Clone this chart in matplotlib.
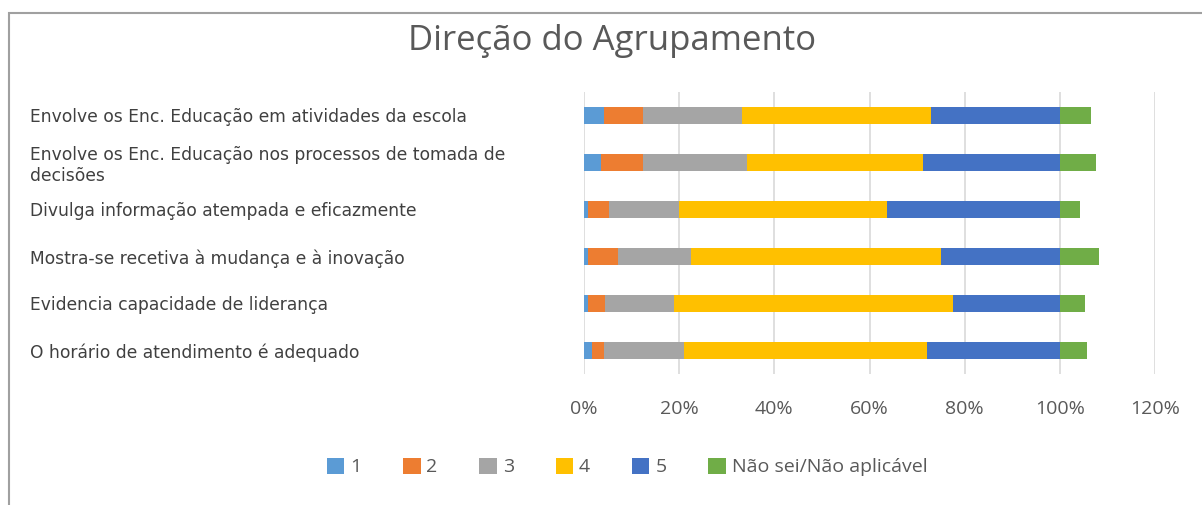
import matplotlib
matplotlib.use("Agg")
import matplotlib.pyplot as plt
from matplotlib.patches import Rectangle
import numpy as np

# Data (percent)
categories = ["Envolve os Enc. Educação em atividades da escola",
              "Envolve os Enc. Educação nos processos de tomada de\ndecisões",
              "Divulga informação atempada e eficazmente",
              "Mostra-se recetiva à mudança e à inovação",
              "Evidencia capacidade de liderança",
              "O horário de atendimento é adequado"]
series_names = ["1", "2", "3", "4", "5", "Não sei/Não aplicável"]
s1 = [4.3, 3.5, 0.8, 0.9, 0.9, 1.7]
s2 = [8.0, 8.8, 4.5, 6.3, 3.6, 2.6]
s3 = [21.0, 21.9, 14.6, 15.3, 14.5, 16.8]
s4 = [39.7, 37.1, 43.7, 52.5, 58.6, 51.0]
s5 = [27.0, 28.7, 36.4, 25.0, 22.4, 27.9]
s_ns = [6.6, 7.5, 4.2, 8.3, 5.3, 5.8]
colors = ["#5b9bd5", "#ed7d31", "#a5a5a5", "#ffc000", "#4472c4", "#70ad47"]
xticks = [0, 20, 40, 60, 80, 100, 120]

W, H = 1202, 505
fig = plt.figure(figsize=(W / 100, H / 100), dpi=100)

# chart frame
fig.patches.append(Rectangle((8.5 / W, -0.1), 1.1, 1 - 12.5 / H + 0.1,
                             transform=fig.transFigure, fill=False,
                             edgecolor="#a0a0a0", linewidth=1.5))

ax = fig.add_axes([584 / W, 1 - 374 / H, 571 / W, 282 / H])

y = np.arange(len(categories))
left = np.zeros(len(categories))
for vals, name, c in zip([s1, s2, s3, s4, s5, s_ns], series_names, colors):
    ax.barh(y, vals, left=left, height=0.36, color=c, label=name, zorder=2)
    left += np.array(vals)

ax.set_ylim(len(categories) - 0.5, -0.5)
ax.set_xlim(0, 120)
ax.set_xticks(xticks)
ax.set_xticklabels([f"{t}%" for t in xticks], fontfamily="Open Sans",
                   fontsize=14, color="#595959")
ax.grid(axis="x", color="#d9d9d9", linewidth=1.2, zorder=0)
ax.tick_params(axis="x", length=0, pad=19)
ax.tick_params(axis="y", length=0, pad=554 * 0.72)
ax.set_yticks(y)
ax.set_yticklabels(categories, fontfamily="DejaVu Sans", fontsize=12.3,
                   color="#404040", ha="left", multialignment="left",
                   linespacing=1.15)
for s in ax.spines.values():
    s.set_visible(False)

fig.text(612 / W, 1 - 41 / H, "Direção do Agrupamento", ha="center", va="center",
         fontfamily="Open Sans", fontsize=25, color="#595959")

leg = fig.legend(loc="center", bbox_to_anchor=(627 / W, 1 - 467 / H), ncol=6,
                 frameon=False, handlelength=0.9, handleheight=0.9,
                 handletextpad=0.3, columnspacing=2.15,
                 prop={"family": "Open Sans", "size": 14})
for t in leg.get_texts():
    t.set_color("#595959")

fig.savefig("out.png", dpi=100)
